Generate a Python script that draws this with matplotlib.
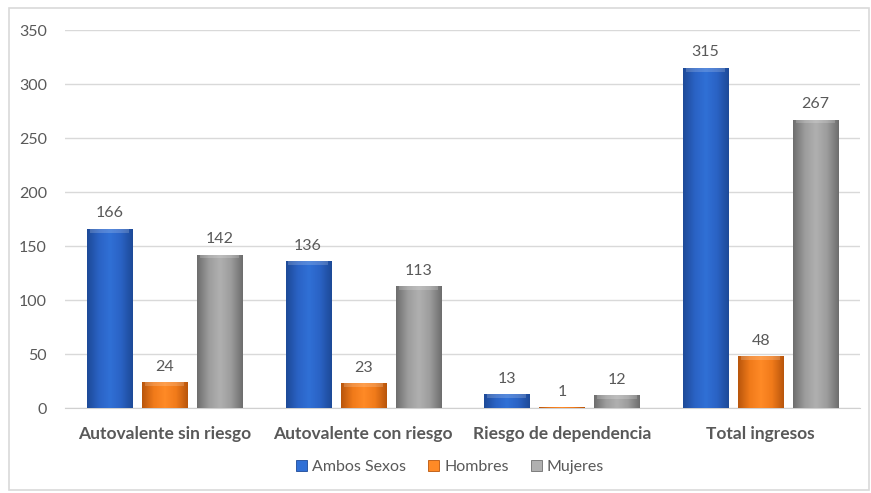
import numpy as np
import matplotlib
matplotlib.use('Agg')
import matplotlib.pyplot as plt
from matplotlib.patches import Patch, Rectangle
from matplotlib.colors import LinearSegmentedColormap

plt.rcParams['font.family'] = ['Lato', 'DejaVu Sans']

categorias = ['Autovalente sin riesgo', 'Autovalente con riesgo',
              'Riesgo de dependencia', 'Total ingresos']
series = ['Ambos Sexos', 'Hombres', 'Mujeres']
ambos = [166, 136, 13, 315]
hombres = [24, 23, 1, 48]
mujeres = [142, 113, 12, 267]
valores = [ambos, hombres, mujeres]

# colores (borde oscuro, centro, claro)
colores = [('#1d4a98', '#3070d6', '#2a62c4'),
           ('#b9560c', '#ff8a26', '#f07a1a'),
           ('#6e6e6e', '#b0b0b0', '#9c9c9c')]
gris_txt = '#595959'

fig = plt.figure(figsize=(8.71, 4.93), dpi=100)
ax = fig.add_axes([65/871, 1-408/493, (860-65)/871, (408-30)/493])

x = np.arange(len(categorias))
ancho = 0.227
desp = 0.277

grad = np.linspace(0, 1, 64)

for i, (vals, col) in enumerate(zip(valores, colores)):
    cmap = LinearSegmentedColormap.from_list('c%d' % i, [col[0], col[2], col[1], col[2], col[0]])
    bars = ax.bar(x + (i-1)*desp, vals, ancho, color=col[2], edgecolor=col[0],
                  linewidth=0.6, zorder=3)
    for b, v in zip(bars, vals):
        im = ax.imshow(grad[None, :], cmap=cmap, aspect='auto', zorder=3.5,
                       extent=[b.get_x(), b.get_x()+b.get_width(), 0, v])
        im.set_clip_path(b)
        # bisel superior
        h = min(3.5, v*0.5)
        ax.add_patch(Rectangle((b.get_x()+0.015, v-h), b.get_width()-0.03, h,
                               facecolor='white', alpha=0.18, linewidth=0, zorder=3.6))
        ax.annotate(str(v), (b.get_x()+b.get_width()/2, v), xytext=(0, 6),
                    textcoords='offset points', ha='center', va='bottom',
                    fontsize=11.5, color=gris_txt)

ax.set_xlim(-0.5, 3.5)
ax.set_ylim(0, 350)
ax.set_yticks(range(0, 351, 50))
ax.grid(axis='y', color='#d9d9d9', linewidth=1, zorder=0)
ax.set_axisbelow(True)
for s in ['top', 'right', 'left']:
    ax.spines[s].set_visible(False)
ax.spines['bottom'].set_color('#d0d0d0')
ax.tick_params(axis='y', length=0, pad=13, labelsize=11.5, labelcolor=gris_txt)
ax.tick_params(axis='x', length=0, pad=13, labelsize=12.5, labelcolor=gris_txt)
ax.set_xticks(x)
ax.set_xticklabels(categorias, fontweight='bold')

handles = [Patch(facecolor=c[1], edgecolor=c[0], linewidth=0.6) for c in colores]
fig.legend(handles, series, loc='center', bbox_to_anchor=(450/871, 1-467/493),
           ncol=3, frameon=False, fontsize=11.5, labelcolor=gris_txt,
           handlelength=0.7, handleheight=0.7, handletextpad=0.3, columnspacing=1.4)

# marco del gráfico
fig.add_artist(Rectangle((9/871, 1-490/493), (869-9)/871, (490-8)/493,
                         transform=fig.transFigure, fill=False,
                         edgecolor='#d9d9d9', linewidth=1.2))

fig.savefig('out.png', dpi=100)
